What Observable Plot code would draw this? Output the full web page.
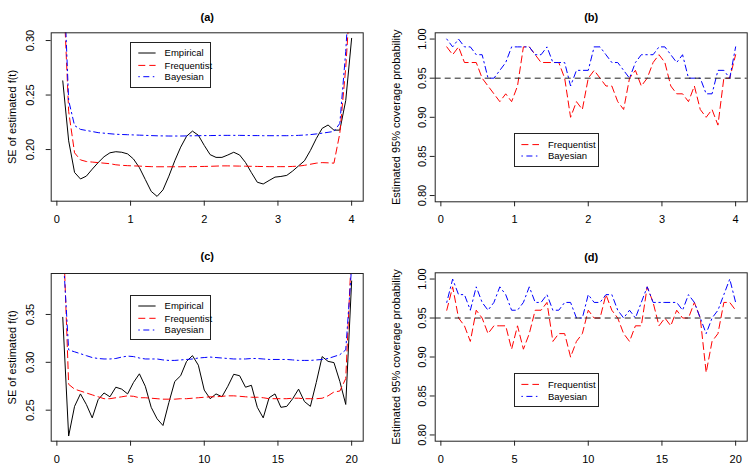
<!DOCTYPE html>
<html><head><meta charset="utf-8">
<script src="https://cdn.jsdelivr.net/npm/d3@7"></script>
<script src="https://cdn.jsdelivr.net/npm/@observablehq/plot@0.6"></script>
<style>
body{margin:0;background:#fff;font-family:"Liberation Sans",Arial,sans-serif}
#root{position:relative;width:753px;height:468px;overflow:hidden}
.cell{position:absolute}
.leg{position:absolute;background:#fff;border:1px solid #222;box-sizing:border-box}
</style></head><body><div id="root"></div>
<script>
// ---------- data ----------
const tA = [0.08,0.16,0.24,0.32,0.40,0.48,0.56,0.64,0.72,0.80,0.88,0.96,1.04,1.12,1.20,1.28,1.36,1.44,1.52,1.60,1.68,1.76,1.84,1.92,2.00,2.08,2.16,2.24,2.32,2.40,2.48,2.56,2.64,2.72,2.80,2.88,2.96,3.04,3.12,3.20,3.28,3.36,3.44,3.52,3.60,3.68,3.76,3.84,3.92,4.00];
const tC = [0.4,0.8,1.2,1.6,2.0,2.4,2.8,3.2,3.6,4.0,4.4,4.8,5.2,5.6,6.0,6.4,6.8,7.2,7.6,8.0,8.4,8.8,9.2,9.6,10.0,10.4,10.8,11.2,11.6,12.0,12.4,12.8,13.2,13.6,14.0,14.4,14.8,15.2,15.6,16.0,16.4,16.8,17.2,17.6,18.0,18.4,18.8,19.2,19.6,20.0];

const empA = [0.263,0.208,0.179,0.173,0.1756,0.182,0.188,0.1934,0.197,0.198,0.1975,0.196,0.1913,0.1834,0.1725,0.1616,0.157,0.163,0.1756,0.1897,0.2022,0.2122,0.2169,0.2131,0.2038,0.1953,0.1928,0.1928,0.195,0.1975,0.195,0.1881,0.1788,0.17,0.1684,0.1716,0.1747,0.1753,0.1763,0.1803,0.185,0.1897,0.1991,0.21,0.2194,0.2225,0.2178,0.2178,0.245,0.302];
const freqA = [0.36,0.235,0.197,0.1905,0.189,0.1885,0.188,0.1875,0.187,0.186,0.1855,0.1852,0.185,0.1848,0.1845,0.1843,0.1842,0.1842,0.1842,0.1842,0.1842,0.1843,0.1843,0.1844,0.1845,0.1846,0.1848,0.185,0.185,0.1849,0.1848,0.1847,0.1846,0.1845,0.1844,0.1843,0.1843,0.1843,0.1843,0.1845,0.1848,0.1855,0.1865,0.1875,0.188,0.1878,0.1875,0.215,0.275,0.36];
const bayA = [0.38,0.245,0.222,0.2185,0.2175,0.2165,0.2155,0.215,0.2145,0.214,0.2138,0.2136,0.2134,0.2132,0.213,0.2128,0.2126,0.2125,0.2124,0.2124,0.2124,0.2125,0.2126,0.2127,0.2128,0.2128,0.2129,0.213,0.213,0.213,0.213,0.2129,0.2128,0.2128,0.2127,0.2127,0.2127,0.2127,0.2127,0.2128,0.213,0.2133,0.2137,0.2143,0.215,0.2158,0.2166,0.224,0.29,0.38];

const freqB = [0.99,0.98,0.99,0.97,0.97,0.97,0.95,0.94,0.93,0.92,0.93,0.92,0.94,0.99,0.99,0.98,0.97,0.97,0.97,0.97,0.95,0.90,0.92,0.91,0.95,0.96,0.95,0.94,0.94,0.92,0.91,0.95,0.96,0.94,0.95,0.97,0.98,0.97,0.94,0.93,0.93,0.92,0.94,0.91,0.90,0.91,0.89,0.95,0.95,0.98];
const bayB = [1.00,0.99,1.00,0.99,0.99,0.98,0.98,0.95,0.95,0.96,0.97,0.99,0.99,0.99,0.99,0.98,0.98,0.99,0.97,0.97,0.97,0.94,0.96,0.96,0.96,0.99,0.99,0.98,0.97,0.97,0.96,0.95,0.97,0.98,0.98,0.98,0.99,0.99,0.98,0.97,0.98,0.95,0.95,0.95,0.93,0.93,0.96,0.96,0.95,0.99];

const empC = [0.347,0.223,0.254,0.267,0.256,0.242,0.261,0.268,0.264,0.274,0.272,0.267,0.279,0.288,0.275,0.253,0.241,0.234,0.258,0.280,0.286,0.301,0.307,0.297,0.271,0.262,0.267,0.264,0.275,0.2875,0.286,0.274,0.276,0.253,0.242,0.263,0.267,0.253,0.254,0.262,0.272,0.259,0.254,0.279,0.306,0.301,0.2997,0.280,0.256,0.385];
const freqC = [0.45,0.277,0.272,0.270,0.268,0.266,0.264,0.262,0.262,0.263,0.264,0.265,0.2645,0.263,0.263,0.2625,0.262,0.2615,0.2615,0.2615,0.262,0.262,0.2625,0.263,0.2635,0.264,0.264,0.2645,0.265,0.265,0.2645,0.264,0.2635,0.2635,0.263,0.262,0.262,0.262,0.262,0.2625,0.2625,0.262,0.262,0.262,0.2625,0.265,0.269,0.270,0.283,0.42];
const bayC = [0.42,0.313,0.311,0.309,0.307,0.305,0.304,0.3035,0.3035,0.304,0.3055,0.3065,0.306,0.3045,0.3035,0.3035,0.3035,0.3025,0.302,0.302,0.3025,0.303,0.3035,0.3045,0.305,0.3055,0.305,0.3045,0.304,0.3035,0.3035,0.3035,0.304,0.304,0.3035,0.303,0.303,0.303,0.303,0.3025,0.302,0.302,0.302,0.3025,0.303,0.304,0.306,0.308,0.313,0.40];

const freqD = [0.96,0.99,0.95,0.94,0.92,0.96,0.95,0.93,0.94,0.94,0.94,0.91,0.94,0.91,0.93,0.96,0.96,0.97,0.92,0.93,0.93,0.90,0.92,0.93,0.96,0.95,0.95,0.98,0.96,0.95,0.93,0.92,0.94,0.94,0.99,0.97,0.94,0.95,0.94,0.96,0.95,0.95,0.97,0.95,0.88,0.92,0.93,0.97,0.97,0.96];
const bayD = [0.97,1.00,0.98,0.98,0.96,0.99,0.97,0.96,0.97,0.99,0.98,0.96,0.96,0.97,0.99,0.97,0.97,0.98,0.96,0.96,0.97,0.97,0.95,0.95,0.98,0.97,0.97,0.98,0.98,0.96,0.95,0.96,0.95,0.97,0.99,0.97,0.97,0.97,0.97,0.97,0.96,0.98,0.97,0.95,0.93,0.95,0.96,0.98,1.00,0.97];

const xTicksA = [0,1,2,3,4];
const xTicksC = [0,5,10,15,20];
const yTicksA = [0.20,0.25,0.30];
const yTicksC = [0.25,0.30,0.35];
const yTicksB = [0.80,0.85,0.90,0.95,1.00];
const nominal = [0.95];

const seLabel = "SE of estimated f(t)";
const covLabel = "Estimated 95% coverage probability";

// ---------- styles ----------
const STY = {
  emp: {stroke: "#000", dash: null},
  freq: {stroke: "#ff0000", dash: "7,4"},
  bay: {stroke: "#0000ff", dash: "1.5,3.5,6,3.5"}
};
const FS = 11;

const root = document.getElementById("root");

function panel(c) {
  const marks = [];
  for (const s of c.series) {
    marks.push(Plot.line(s.y, {x: c.t, y: d => d, stroke: STY[s.k].stroke, strokeDasharray: STY[s.k].dash, strokeWidth: 1, clip: true}));
  }
  if (c.ref) marks.push(Plot.ruleY(c.ref, {stroke: "#222", strokeDasharray: "6,4", strokeWidth: 1}));
  marks.push(
    Plot.axisX({ticks: c.xTicks, tickSize: 5, tickPadding: 8.5, fontSize: FS, label: null, stroke: "#222", tickFormat: d => String(d)}),
    Plot.axisY({ticks: c.yTicks, tickSize: 5, tickPadding: c.yPad, tickRotate: -90, textAnchor: "middle", tickFormat: d3.format(".2f"), label: null, fontSize: FS, stroke: "#222"}),
    Plot.text([c.yLabel], {text: d => d, frameAnchor: "left", textAnchor: "middle", rotate: -90, dx: -39, fontSize: FS}),
    Plot.text([c.title], {text: d => d, frameAnchor: "top", dy: c.titleDy, fontSize: FS, fontWeight: "bold"}),
    Plot.frame({stroke: "#222"})
  );
  const p = Plot.plot({
    width: c.w, height: c.h,
    marginLeft: c.ml, marginRight: c.mr, marginTop: c.mt, marginBottom: c.mb,
    x: {domain: c.xDomain},
    y: {domain: c.yDomain},
    style: {fontFamily: '"Liberation Sans", Arial, sans-serif', fontSize: FS + "px", background: "transparent", overflow: "visible", color: "#000"},
    marks
  });
  const d = document.createElement("div");
  d.className = "cell";
  d.style.left = c.left + "px"; d.style.top = c.top + "px";
  d.appendChild(p);
  root.appendChild(d);
}

function legend(c) {
  const d = document.createElement("div");
  d.className = "leg";
  d.style.left = c.left + "px"; d.style.top = c.top + "px";
  d.style.width = c.w + "px"; d.style.height = c.h + "px";
  let svg = `<svg width="${c.w}" height="${c.h}" style="position:absolute;left:-1px;top:-1px;overflow:visible">`;
  c.rows.forEach((r, i) => {
    const y = c.rowY[i];
    const s = STY[r.k];
    svg += `<line x1="${c.x0}" x2="${c.x1}" y1="${y}" y2="${y}" stroke="${s.stroke}" stroke-width="1"${s.dash ? ` stroke-dasharray="${s.dash}"` : ""}/>`;
    svg += `<text x="${c.tx}" y="${y}" dy="0.35em" font-size="9.5" font-family="Liberation Sans, Arial, sans-serif" fill="#000">${r.label}</text>`;
  });
  svg += `</svg>`;
  d.innerHTML = svg;
  root.appendChild(d);
}

const threeSeries = (e, f, b) => [{k: "emp", y: e}, {k: "freq", y: f}, {k: "bay", y: b}];

panel({left: 0, top: 0, w: 376, h: 234, ml: 50.7, mr: 13.3, mt: 32.3, mb: 33.3,
  t: tA, xDomain: [-0.077, 4.157], yDomain: [0.1526, 0.3071], xTicks: xTicksA, yTicks: yTicksA,
  yPad: 12, yLabel: seLabel, title: "(a)", titleDy: -20, series: threeSeries(empA, freqA, bayA)});
panel({left: 376, top: 0, w: 377, h: 234, ml: 58.7, mr: 6.3, mt: 32.3, mb: 32.7,
  t: tA, xDomain: [-0.077, 4.157], yDomain: [0.792, 1.008], xTicks: xTicksA, yTicks: yTicksB,
  yPad: 4.5, yLabel: covLabel, title: "(b)", titleDy: -20, ref: nominal,
  series: [{k: "freq", y: freqB}, {k: "bay", y: bayB}]});
panel({left: 0, top: 234, w: 376, h: 234, ml: 50.7, mr: 13.3, mt: 39, mb: 27.3,
  t: tC, xDomain: [-0.384, 20.784], yDomain: [0.2176, 0.3928], xTicks: xTicksC, yTicks: yTicksC,
  yPad: 12, yLabel: seLabel, title: "(c)", titleDy: -21, series: threeSeries(empC, freqC, bayC)});
panel({left: 376, top: 234, w: 377, h: 234, ml: 58.7, mr: 6.3, mt: 38.3, mb: 27.3,
  t: tC, xDomain: [-0.384, 20.784], yDomain: [0.792, 1.008], xTicks: xTicksC, yTicks: yTicksB,
  yPad: 4.5, yLabel: covLabel, title: "(d)", titleDy: -20, ref: nominal,
  series: [{k: "freq", y: freqD}, {k: "bay", y: bayD}]});

const rows3 = [{k: "emp", label: "Empirical"}, {k: "freq", label: "Frequentist"}, {k: "bay", label: "Bayesian"}];
const rows2 = [{k: "freq", label: "Frequentist"}, {k: "bay", label: "Bayesian"}];
legend({left: 129.7, top: 42.3, w: 81.6, h: 46, rows: rows3, rowY: [11, 23.4, 34.7], x0: 8.3, x1: 25.6, tx: 34.6});
legend({left: 129.7, top: 295, w: 81.6, h: 45.3, rows: rows3, rowY: [11, 23.3, 35], x0: 8.3, x1: 25.6, tx: 34.6});
legend({left: 514.3, top: 132.7, w: 85, h: 34, rows: rows2, rowY: [11.6, 23], x0: 7.4, x1: 25, tx: 34});
legend({left: 514.3, top: 373.3, w: 85, h: 34, rows: rows2, rowY: [11.4, 23.4], x0: 7.4, x1: 25, tx: 34});
</script></body></html>
